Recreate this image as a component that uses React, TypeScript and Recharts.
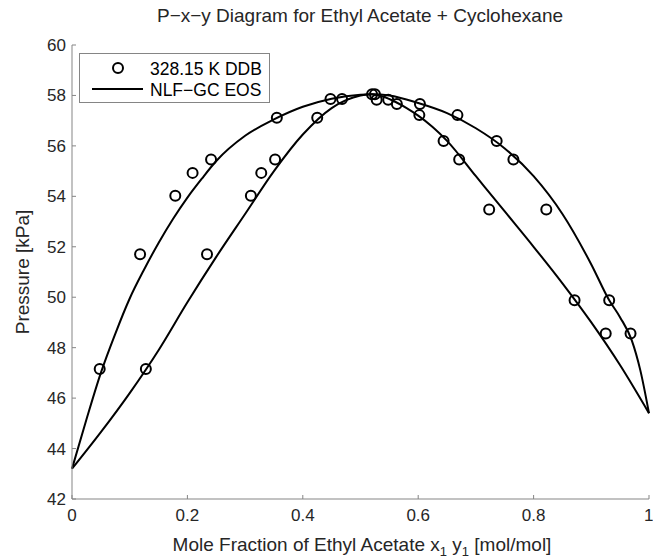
import { ComposedChart, Line, Scatter, XAxis, YAxis, Customized } from "recharts";

// experimental points (same pressure for liquid x1 and vapour y1)
const pressureExp = [47.15, 51.7, 54.02, 54.93, 55.46, 57.12, 57.86, 58.05, 57.83, 57.66, 57.22, 56.19, 55.46, 53.48, 49.88, 48.56];
const liquidX = [0.048, 0.118, 0.179, 0.209, 0.241, 0.355, 0.448, 0.52, 0.548, 0.603, 0.668, 0.736, 0.765, 0.822, 0.931, 0.968];
const vaporY = [0.128, 0.234, 0.31, 0.328, 0.352, 0.425, 0.468, 0.525, 0.528, 0.563, 0.602, 0.644, 0.671, 0.723, 0.871, 0.925];

// model curves
const bubbleX = [0, 0.025, 0.05, 0.075, 0.1, 0.125, 0.15, 0.175, 0.2, 0.225, 0.25, 0.3, 0.35, 0.4, 0.45, 0.5, 0.52, 0.55, 0.6, 0.65, 0.7, 0.75, 0.8, 0.85, 0.9, 0.931, 0.95, 0.97, 0.985, 1];
const bubbleP = [43.2, 45.15, 47.0, 48.55, 49.95, 51.1, 52.15, 53.1, 53.95, 54.7, 55.4, 56.4, 57.05, 57.55, 57.87, 58.03, 58.05, 58.0, 57.7, 57.3, 56.7, 55.9, 54.8, 53.3, 51.3, 49.88, 49.2, 48.3, 47.1, 45.4];
const dewX = [0, 0.05, 0.1, 0.15, 0.2, 0.25, 0.3, 0.35, 0.4, 0.45, 0.5, 0.52, 0.54, 0.56, 0.58, 0.6, 0.625, 0.65, 0.7, 0.75, 0.8, 0.85, 0.9, 0.95, 1];
const dewP = [43.2, 44.65, 46.2, 47.9, 49.8, 51.6, 53.3, 55.0, 56.45, 57.5, 58.0, 58.05, 57.95, 57.75, 57.5, 57.2, 56.75, 56.2, 54.8, 53.4, 52.0, 50.55, 49.0, 47.3, 45.4];

const xTicks = [0, 0.2, 0.4, 0.6, 0.8, 1];
const yTicks = [42, 44, 46, 48, 50, 52, 54, 56, 58, 60];

const FONT = "'Liberation Sans', Arial, Helvetica, sans-serif";
const AXIS = "#858585";
const TEXT = "#262626";

const bubble = bubbleX.map((x, i) => ({ x, p: bubbleP[i] }));
const dew = dewX.map((x, i) => ({ x, p: dewP[i] }));
const liq = liquidX.map((x, i) => ({ x, p: pressureExp[i] }));
const vap = vaporY.map((x, i) => ({ x, p: pressureExp[i] }));

const ring = (props: any) => (
  <circle cx={props.cx} cy={props.cy} r={5} fill="none" stroke="#000" strokeWidth={2} />
);

function Annotations() {
  return (
    <g fontFamily={FONT}>
      <text x={360} y={22} textAnchor="middle" fontSize={19} fill={TEXT}>
        P−x−y Diagram for Ethyl Acetate + Cyclohexane
      </text>
      <text x={29} y={272} textAnchor="middle" fontSize={19} fill={TEXT} transform="rotate(-90 29 272)">
        Pressure [kPa]
      </text>
      <text x={362} y={551} textAnchor="middle" fontSize={19} fill={TEXT}>
        Mole Fraction of Ethyl Acetate x
        <tspan fontSize={13} dy={5}>1</tspan>
        <tspan dy={-5}> y</tspan>
        <tspan fontSize={13} dy={5}>1</tspan>
        <tspan dy={-5}> [mol/mol]</tspan>
      </text>
      <g>
        <rect x={79.5} y={53.5} width={190} height={49} fill="#fff" stroke={AXIS} strokeWidth={1} />
        <circle cx={118} cy={68} r={5} fill="none" stroke="#000" strokeWidth={2} />
        <line x1={92} x2={143} y1={89} y2={89} stroke="#000" strokeWidth={2} />
        <text x={150} y={74.5} fontSize={17.5} fill="#000">328.15 K DDB</text>
        <text x={150} y={95.5} fontSize={17.5} fill="#000">NLF−GC EOS</text>
      </g>
    </g>
  );
}

export default function App() {
  return (
    <div style={{ position: "absolute", left: 0, top: 0, background: "#fff" }}>
      <ComposedChart width={653} height={558} margin={{ top: 45, right: 4, bottom: 0, left: 0 }}>
        <XAxis
          type="number"
          dataKey="x"
          domain={[0, 1]}
          ticks={xTicks}
          height={59}
          tickSize={-4}
          tickMargin={14}
          stroke={AXIS}
          tick={{ fill: TEXT, fontSize: 17, fontFamily: FONT }}
        />
        <YAxis
          type="number"
          dataKey="p"
          domain={[42, 60]}
          ticks={yTicks}
          width={72}
          tickSize={-4}
          tickMargin={10}
          stroke={AXIS}
          tick={{ fill: TEXT, fontSize: 17, fontFamily: FONT }}
        />
        <Line data={bubble} dataKey="p" type="monotone" stroke="#000" strokeWidth={2} dot={false} isAnimationActive={false} />
        <Line data={dew} dataKey="p" type="monotone" stroke="#000" strokeWidth={2} dot={false} isAnimationActive={false} />
        <Scatter data={liq} dataKey="p" shape={ring} isAnimationActive={false} />
        <Scatter data={vap} dataKey="p" shape={ring} isAnimationActive={false} />
        <Customized component={Annotations} />
      </ComposedChart>
    </div>
  );
}
